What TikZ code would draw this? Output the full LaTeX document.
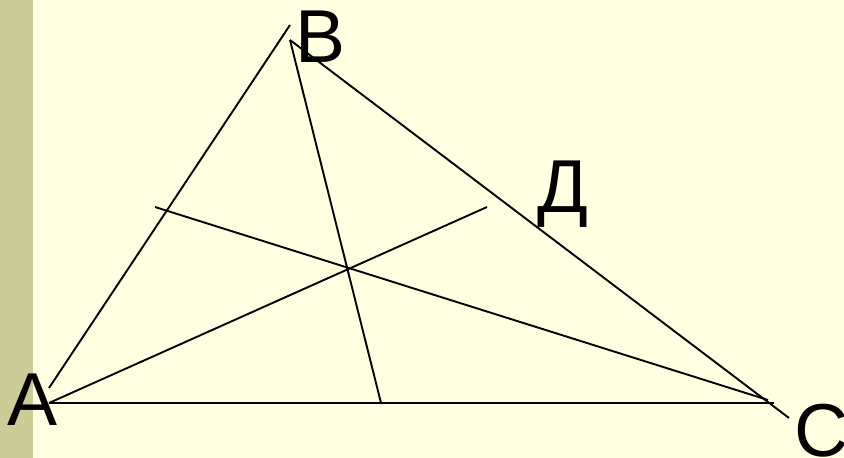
\documentclass[tikz,border=0pt]{standalone}
\usepackage{fontspec}
\setmainfont{Liberation Sans}
\definecolor{bgyellow}{HTML}{FFFFE1}
\definecolor{stripolive}{HTML}{CCCC99}
\begin{document}
\begin{tikzpicture}[x=1pt,y=-1pt,
  seg/.style={black,line width=1.9pt},
  lbl/.style={inner sep=0pt,anchor=base west,font=\fontsize{75}{80}\selectfont}]
\useasboundingbox (0,0) rectangle (844,458);
\fill[bgyellow] (0,0) rectangle (844,458);
\fill[stripolive] (0,0) rectangle (33,458);
% points
\coordinate (A) at (49,403);
\coordinate (Atop) at (49,388);
\coordinate (Btop) at (290,25);
\coordinate (B) at (290,40);
\coordinate (Cend) at (789,418);
\coordinate (Cacc) at (774,403);
\coordinate (H) at (381,403);
\coordinate (M) at (487,207);
\coordinate (N) at (155,207);
\coordinate (Cmeet) at (768,400);
% lines
\draw[seg] (Atop) -- (Btop);
\draw[seg] (B) -- (Cend);
\draw[seg] (B) -- (H);
\draw[seg] (A) -- (Cacc);
\draw[seg] (A) -- (M);
\draw[seg] (N) -- (Cmeet);
% labels
\node[lbl] (la) at (7,425) {A};
\node[lbl] (lb) at (295,62) {B};
\node[lbl] (lc) at (794,456) {C};
\node[lbl] (ld) at (537,212) {Д};
\end{tikzpicture}
\end{document}
